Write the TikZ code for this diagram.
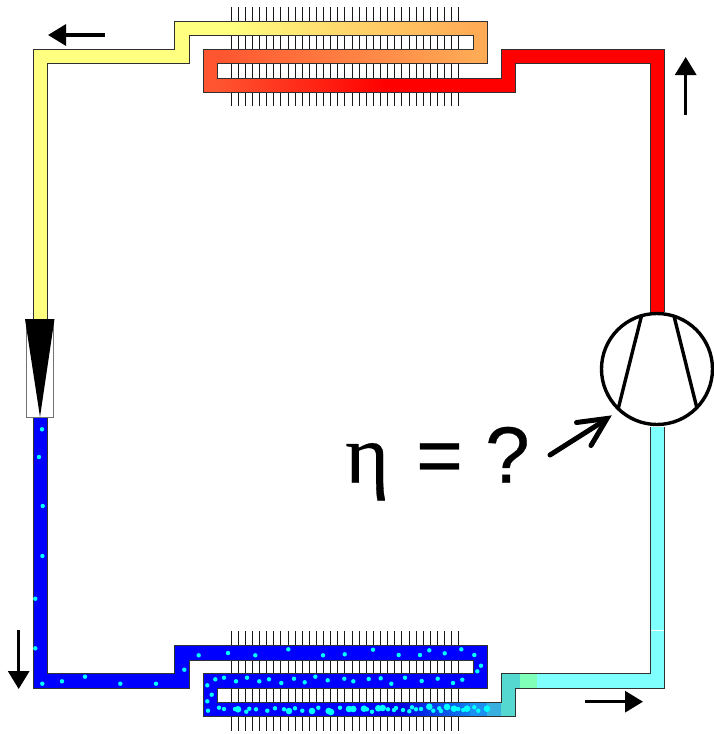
\documentclass[tikz,border=0pt]{standalone}
\usepackage{fontspec}
\setmainfont[FakeBold=0.35]{Liberation Sans}
\newfontfamily\serifgr[FakeBold=0.35]{Liberation Serif}
\usetikzlibrary{arrows.meta}
\definecolor{yel}{HTML}{FFFF80}
\definecolor{ora}{HTML}{FFAA55}
\definecolor{redo}{HTML}{FF5530}
\definecolor{cya}{HTML}{80FFFF}
\definecolor{grn}{HTML}{80FFB8}
\definecolor{tea}{HTML}{55D8D0}
\definecolor{bl1}{HTML}{0000E0}
\definecolor{bl2}{HTML}{1080F0}
\definecolor{bl3}{HTML}{1C90F0}
\definecolor{bl4}{HTML}{3AB0E0}
\definecolor{dot}{HTML}{00FFFF}
\definecolor{outl}{HTML}{303030}
\tikzset{
  fin/.style={line width=0.85pt,black!90},
  tubeline/.style={draw=outl,line width=0.9pt,line join=miter},
  flow/.style={line width=3.2pt,black,-{Triangle[length=18pt,width=21pt]}},
  comp/.style={line width=3.4pt,black},
}
\newcommand{\drops}[2]{\foreach \a/\b in {#2}{\fill[dot] (\a,\b) circle (#1);}}
\begin{document}
\begin{tikzpicture}[x=1pt,y=-1pt]
\useasboundingbox (0,0) rectangle (714,734);
% fins
\foreach \i in {0,...,32}{
  \draw[fin] ({231+7.12*\i},7) -- ({231+7.12*\i},106);
  \draw[fin] ({231+7.12*\i},631) -- ({231+7.12*\i},731);
}
% top coil fills
\fill[yel] (33,49.5) rectangle (47,320.3);
\fill[yel] (33,49.5) rectangle (189,63.5);
\fill[yel] (174.5,21.5) rectangle (189,63.5);
\fill[yel] (174.5,21.5) rectangle (230.3,35.5);
\shade[left color=yel,right color=ora] (230,21.5) rectangle (473.3,35.5);
\fill[ora] (473,21.5) rectangle (487,63.5);
\shade[left color=redo,right color=ora] (217,49.5) rectangle (473.3,63.5);
\fill[redo] (203.5,49.5) rectangle (217.3,92.5);
\shade[left color=redo,right color=red] (217,78) rectangle (385.3,92.5);
\fill[red] (385,78) rectangle (515,92.5);
\fill[red] (501,49.5) rectangle (515,92.5);
\fill[red] (501,49.5) rectangle (664,63.5);
\fill[red] (650,49.5) rectangle (664,312);
\draw[tubeline] (33,320) -- (33,49.5) -- (174.5,49.5) -- (174.5,21.5) -- (487,21.5) -- (487,63.5)
  -- (217,63.5) -- (217,78) -- (501,78) -- (501,49.5) -- (664,49.5) -- (664,312)
  (650,312) -- (650,63.5) -- (515,63.5) -- (515,92.5) -- (203.5,92.5) -- (203.5,49.5)
  -- (473,49.5) -- (473,35.5) -- (189,35.5) -- (189,63.5) -- (47,63.5) -- (47,320);
% bottom coil fills
\fill[blue] (33,417) rectangle (47,688.3);
\fill[blue] (33,673.5) rectangle (189,688.3);
\fill[blue] (174.5,645.5) rectangle (189,688.3);
\fill[blue] (174.5,645.5) rectangle (487,660.3);
\fill[blue] (473,645.5) rectangle (487,688.5);
\fill[blue] (203.5,673.5) rectangle (487,688.5);
\fill[blue] (203.5,673.5) rectangle (217,716.7);
\fill[blue] (217,702) rectangle (360.3,716.7);
\shade[left color=blue,right color=bl1] (360,702) rectangle (400.3,716.7);
\shade[left color=bl1,right color=bl2] (400,702) rectangle (470.3,716.7);
\fill[bl3] (470,702) rectangle (487.3,716.7);
\fill[bl4] (487,702) rectangle (501.3,716.7);
\fill[tea] (501,673.5) rectangle (515,716.7);
\fill[tea] (515,673.5) rectangle (520.3,688.3);
\fill[grn] (520,673.5) rectangle (537.3,688.3);
\fill[cya] (537,673.5) rectangle (664,688.3);
\fill[cya] (650,427) rectangle (664,688.3);
\fill[white] (650.5,629.6) rectangle (663.5,630.6);
\draw[tubeline] (33,417) -- (33,688.3) -- (189,688.3) -- (189,660.3) -- (473,660.3) -- (473,673.5)
  -- (203.5,673.5) -- (203.5,716.7) -- (515,716.7) -- (515,688.3) -- (664,688.3) -- (664,427)
  (650,427) -- (650,673.5) -- (501,673.5) -- (501,702) -- (217,702) -- (217,688.7) -- (487,688.7)
  -- (487,645.5) -- (174.5,645.5) -- (174.5,673.5) -- (47,673.5) -- (47,417);
% droplets
\drops{2.2pt}{42/429.3,39/457,42.7/506,42.4/556,35.3/598.7,35.3/648.3,
42.3/683.7,62/681.3,85/676.7,120.3/683.7,156/683.7,184.3/669.7,198.7/655.3,228/653,255.3/655.3,288.3/649.3,323/655.3,344.7/654.3,
373/649.7,398.7/655,420/655,429.3/650.3,444.7/653.3,461.3/649.3,474.3/655,481/665.7,477.3/671.3,
207.3/685.3,215.3/679.3,224/677.7,236/681.3,247/677.7,259.3/681.3,269/679.3,281.3/683,294/678.7,304.7/682.3,315.3/676.7,327.7/680.3,344.3/678.7,353.3/681.3,
368.7/679,380.7/678.3,391.3/683.7,405/677.7,421.7/681,437.7/678.7,453/683,462.3/679.7,
211.7/694.7,207.3/701.3,208/710.7,219/707.7,224/709,235/709,246.3/711.7,249.3/708.7,256/709.3,267.3/710.7,275/708.3,284/709.3,295/708.3,302.3/710.7,318.3/707.7,340/707.7,
367/709.3,372/711.7,388/709.3,394/710,396/708,403/710,409.3/711.3,412/707.3,416/709.3,421/709,433.3/710.7,439.3/708.3,441/711,453/708.3,458.3/709,463.3/710,474.3/707.3,478.3/710.7}
\drops{3.3pt}{238/709.3,289/711,312/711,328.7/711,331/712,349/709,353.3/709,364/708.7,378.3/708.3,382.7/708,
429.3/706.7,447/707,454/708.7,467/708.7,487/708.7}
% expansion valve
\draw[draw=black!55,fill=white,line width=1pt] (26,320) rectangle (53,417);
\fill[black] (25,319) -- (54.5,319) -- (40,417) -- cycle;
% compressor
\draw[comp,fill=white] (657,369) circle (55.5);
\draw[comp] (641.7,315) -- (618.3,408.3);
\draw[comp] (674,316) -- (696.7,407.3);
% flow arrows
\draw[flow] (105,35) -- (48,35);
\draw[flow] (685.7,115) -- (685.7,57);
\draw[flow] (18.7,630) -- (18.7,689);
\draw[flow] (585,701.7) -- (643,701.7);
% efficiency label
\node[anchor=base west,inner sep=0pt,font=\serifgr\fontsize{84}{84}\selectfont] (eta) at (345,482.7) {η};
\node[anchor=base west,inner sep=0pt,font=\fontsize{80}{80}\selectfont] (eq) at (416,482.7) {=};
\node[anchor=base west,inner sep=0pt,font=\fontsize{80}{80}\selectfont] (qm) at (485,482.7) {?};
\draw[line width=5pt,line cap=round,line join=miter] (550,455) -- (606,419.5);
\draw[line width=5pt,line cap=round,line join=miter] (576.5,422.5) -- (607,418.5) -- (591,445.5);
\end{tikzpicture}
\end{document}
